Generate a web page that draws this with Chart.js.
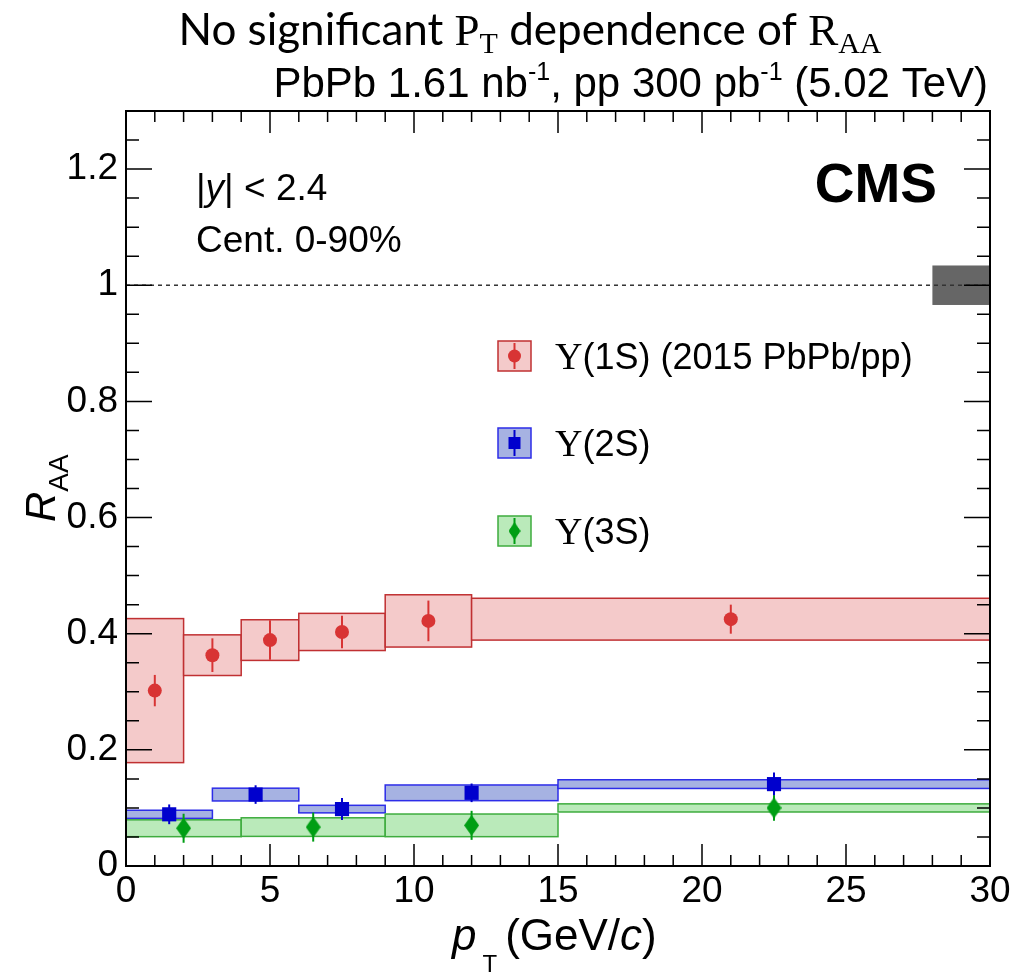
<!DOCTYPE html>
<html>
<head>
<meta charset="utf-8">
<script src="https://cdn.jsdelivr.net/npm/chart.js@4.4.1/dist/chart.umd.min.js"></script>
<style>
  html, body { margin: 0; padding: 0; background: #fff; }
  #wrap { width: 1033px; height: 975px; }
</style>
</head>
<body>
<div id="wrap"><canvas id="raaChart" width="1033" height="975"></canvas></div>
<script>
// ---- Y(1S), 2015 PbPb/pp ----
const pt1S    = [1, 3, 5, 7.5, 10.5, 21];
const binLo1S = [0, 2, 4, 6, 9, 12];
const binHi1S = [2, 4, 6, 9, 12, 30];
const raa1S   = [0.302, 0.363, 0.389, 0.403, 0.422, 0.425];
const stat1S  = [0.027, 0.029, 0.034, 0.028, 0.035, 0.025];
const sys1S   = [0.124, 0.035, 0.035, 0.032, 0.045, 0.036];

// ---- Y(2S) ----
const pt2S    = [1.5, 4.5, 7.5, 12, 22.5];
const binLo2S = [0, 3, 6, 9, 15];
const binHi2S = [3, 6, 9, 15, 30];
const raa2S   = [0.089, 0.123, 0.098, 0.126, 0.141];
const stat2S  = [0.017, 0.016, 0.019, 0.016, 0.020];
const sys2S   = [0.007, 0.011, 0.0065, 0.0135, 0.0075];

// ---- Y(3S) ----
const pt3S    = [2, 6.5, 12, 22.5];
const binLo3S = [0, 4, 9, 15];
const binHi3S = [4, 9, 15, 30];
const raa3S   = [0.065, 0.067, 0.070, 0.100];
const stat3S  = [0.025, 0.025, 0.025, 0.022];
const sys3S   = [0.0145, 0.016, 0.0195, 0.007];

// global uncertainty box around unity
const globalBin = [28, 30];
const globalUnc = 0.034;

const xTickVals = [0, 5, 10, 15, 20, 25, 30];
const yTickVals = [0, 0.2, 0.4, 0.6, 0.8, 1.0, 1.2];
const yTickLabels = ["0", "0.2", "0.4", "0.6", "0.8", "1", "1.2"];

const legendNames = ["(1S) (2015 PbPb/pp)", "(2S)", "(3S)"];

const SANS = '"Liberation Sans", Arial, Helvetica, sans-serif';
const SERIF = '"Liberation Serif", "Times New Roman", serif';
const HEAD = 'Lato, "Open Sans", sans-serif';

const states = [
  { pt: pt1S, lo: binLo1S, hi: binHi1S, raa: raa1S, stat: stat1S, sys: sys1S,
    fill: "rgb(244,202,202)", edge: "rgb(192,48,50)", mark: "rgb(216,52,52)" },
  { pt: pt2S, lo: binLo2S, hi: binHi2S, raa: raa2S, stat: stat2S, sys: sys2S,
    fill: "rgb(166,178,226)", edge: "rgb(45,45,232)", mark: "rgb(0,0,205)" },
  { pt: pt3S, lo: binLo3S, hi: binHi3S, raa: raa3S, stat: stat3S, sys: sys3S,
    fill: "rgb(186,234,186)", edge: "rgb(62,172,62)", mark: "rgb(0,158,20)" }
];

function diamondImage(w, h, color) {
  const c = document.createElement("canvas");
  c.width = w; c.height = h;
  const g = c.getContext("2d");
  g.fillStyle = color;
  g.beginPath();
  g.moveTo(w / 2, 0); g.lineTo(w, h / 2); g.lineTo(w / 2, h); g.lineTo(0, h / 2);
  g.closePath(); g.fill();
  return c;
}
const diamond = diamondImage(15, 21, states[2].mark);

// draw a row of text pieces with their own fonts / offsets
function drawRuns(ctx, runs, x, y, align) {
  let w = 0;
  runs.forEach(r => { ctx.font = r.font; r.w = ctx.measureText(r.text).width + (r.gap || 0); w += r.w; });
  let cx = align === "right" ? x - w : align === "center" ? x - w / 2 : x;
  runs.forEach(r => { ctx.font = r.font; ctx.fillText(r.text, cx + (r.pre || 0), y + (r.dy || 0)); cx += r.w; });
  return w;
}

// systematic boxes, unity line, stat error bars
const boxesPlugin = {
  id: "boxes",
  beforeDatasetsDraw(chart) {
    const { ctx, chartArea, scales: { x, y } } = chart;
    ctx.save();
    ctx.beginPath();
    ctx.rect(chartArea.left, chartArea.top, chartArea.right - chartArea.left, chartArea.bottom - chartArea.top);
    ctx.clip();

    // global box + dashed line at 1
    ctx.fillStyle = "rgb(102,102,102)";
    const gx0 = x.getPixelForValue(globalBin[0]), gx1 = x.getPixelForValue(globalBin[1]);
    const gy0 = y.getPixelForValue(1 + globalUnc), gy1 = y.getPixelForValue(1 - globalUnc);
    ctx.fillRect(gx0, gy0, gx1 - gx0, gy1 - gy0);
    ctx.strokeStyle = "#333";
    ctx.lineWidth = 1.5;
    ctx.setLineDash([4, 4]);
    ctx.beginPath();
    ctx.moveTo(x.getPixelForValue(0), y.getPixelForValue(1));
    ctx.lineTo(x.getPixelForValue(30), y.getPixelForValue(1));
    ctx.stroke();
    ctx.setLineDash([]);

    states.forEach(s => {
      s.raa.forEach((v, i) => {
        const x0 = x.getPixelForValue(s.lo[i]), x1 = x.getPixelForValue(s.hi[i]);
        const y0 = y.getPixelForValue(v + s.sys[i]), y1 = y.getPixelForValue(v - s.sys[i]);
        ctx.fillStyle = s.fill;
        ctx.fillRect(x0, y0, x1 - x0, y1 - y0);
        ctx.strokeStyle = s.edge;
        ctx.lineWidth = 1.5;
        ctx.strokeRect(x0, y0, x1 - x0, y1 - y0);
      });
    });
    states.forEach(s => {
      ctx.strokeStyle = s.mark;
      ctx.lineWidth = 2;
      s.raa.forEach((v, i) => {
        const px = x.getPixelForValue(s.pt[i]);
        ctx.beginPath();
        ctx.moveTo(px, y.getPixelForValue(v + s.stat[i]));
        ctx.lineTo(px, y.getPixelForValue(v - s.stat[i]));
        ctx.stroke();
      });
    });
    ctx.restore();
  }
};

// frame, inward ticks on all sides, labels and legend
const framePlugin = {
  id: "frame",
  afterDraw(chart) {
    const { ctx, chartArea: a, scales: { x, y } } = chart;
    ctx.save();
    ctx.strokeStyle = "#000";
    ctx.lineWidth = 2;
    ctx.strokeRect(a.left, a.top, a.right - a.left, a.bottom - a.top);

    ctx.lineWidth = 1.5;
    ctx.beginPath();
    for (let v = 0; v <= 30; v += 1) {
      const px = x.getPixelForValue(v);
      const len = v % 5 === 0 ? 22 : 11;
      ctx.moveTo(px, a.bottom); ctx.lineTo(px, a.bottom - len);
      ctx.moveTo(px, a.top); ctx.lineTo(px, a.top + len);
    }
    for (let k = 0; k <= 26; k++) {
      const v = k * 0.05;
      const py = y.getPixelForValue(v);
      const len = k % 4 === 0 ? 26 : 13;
      ctx.moveTo(a.left, py); ctx.lineTo(a.left + len, py);
      ctx.moveTo(a.right, py); ctx.lineTo(a.right - len, py);
    }
    ctx.stroke();

    ctx.fillStyle = "#000";
    ctx.textBaseline = "alphabetic";

    // headline
    drawRuns(ctx, [
      { text: "No significant ", font: "44px " + HEAD },
      { text: "P", font: "45px " + SERIF },
      { text: "T", font: "30px " + SERIF, dy: 8 },
      { text: " dependence of ", font: "44px " + HEAD },
      { text: "R", font: "45px " + SERIF },
      { text: "AA", font: "30px " + SERIF, dy: 8 }
    ], 530, 45, "center");

    // luminosity line
    drawRuns(ctx, [
      { text: "PbPb 1.61 nb", font: "42px " + SANS },
      { text: "-1", font: "25px " + SANS, dy: -17 },
      { text: ", pp 300 pb", font: "42px " + SANS },
      { text: "-1", font: "25px " + SANS, dy: -17 },
      { text: " (5.02 TeV)", font: "42px " + SANS }
    ], 988, 97, "right");

    // CMS
    ctx.font = "bold 55px " + SANS;
    ctx.textAlign = "right";
    ctx.fillText("CMS", 937, 202);
    ctx.textAlign = "left";

    // rapidity / centrality
    drawRuns(ctx, [
      { text: "|", font: "37px " + SANS },
      { text: "y", font: "italic 37px " + SANS },
      { text: "| < 2.4", font: "37px " + SANS }
    ], 196, 200, "left");
    ctx.font = "37px " + SANS;
    ctx.fillText("Cent. 0-90%", 196, 252);

    // legend
    const rowY = [356, 443, 531];
    states.forEach((s, i) => {
      const cy = rowY[i];
      ctx.fillStyle = s.fill;
      ctx.fillRect(498, cy - 15, 33, 30);
      ctx.strokeStyle = s.edge;
      ctx.lineWidth = 1.5;
      ctx.strokeRect(498, cy - 15, 33, 30);
      ctx.strokeStyle = s.mark;
      ctx.lineWidth = 2;
      ctx.beginPath(); ctx.moveTo(514.5, cy - 13); ctx.lineTo(514.5, cy + 13); ctx.stroke();
      ctx.fillStyle = s.mark;
      if (i === 0) { ctx.beginPath(); ctx.arc(514.5, cy, 6.5, 0, Math.PI * 2); ctx.fill(); }
      if (i === 1) ctx.fillRect(508.5, cy - 6, 12, 12);
      if (i === 2) ctx.drawImage(diamond, 514.5 - 6, cy - 9, 12, 18);
      ctx.fillStyle = "#000";
      drawRuns(ctx, [
        { text: "\u03A5", font: "38px " + SERIF },
        { text: legendNames[i], font: "36px " + SANS }
      ], 555, cy + 13, "left");
    });

    // x axis title
    drawRuns(ctx, [
      { text: "p", font: "italic 44px " + SANS },
      { text: "T", font: "24px " + SANS, dy: 22, gap: 14, pre: 6 },
      { text: "(GeV/", font: "44px " + SANS },
      { text: "c", font: "italic 44px " + SANS },
      { text: ")", font: "44px " + SANS }
    ], 452, 950, "left");

    // y axis title
    ctx.translate(55, 522);
    ctx.rotate(-Math.PI / 2);
    drawRuns(ctx, [
      { text: "R", font: "italic 42px " + SANS },
      { text: "AA", font: "28px " + SANS, dy: 13 }
    ], 0, 0, "left");
    ctx.restore();
  }
};

function pts(xs, ys) { return xs.map((v, i) => ({ x: v, y: ys[i] })); }

new Chart(document.getElementById("raaChart"), {
  type: "scatter",
  data: {
    datasets: [
      { label: "1S", data: pts(pt1S, raa1S), pointStyle: "circle", pointRadius: 7,
        backgroundColor: states[0].mark, borderWidth: 0 },
      { label: "2S", data: pts(pt2S, raa2S), pointStyle: "rect", pointRadius: 10,
        backgroundColor: states[1].mark, borderWidth: 0 },
      { label: "3S", data: pts(pt3S, raa3S), pointStyle: diamond, pointRadius: 8,
        backgroundColor: states[2].mark, borderWidth: 0 }
    ]
  },
  options: {
    responsive: false,
    animation: false,
    devicePixelRatio: 1,
    layout: { padding: { top: 111, right: 43, left: 0, bottom: 0 } },
    plugins: { legend: { display: false }, tooltip: { enabled: false } },
    scales: {
      x: {
        type: "linear", min: 0, max: 30,
        grid: { display: false, drawTicks: false }, border: { display: false },
        afterBuildTicks: sc => { sc.ticks = xTickVals.map(v => ({ value: v })); },
        afterFit: sc => { sc.height = 109; },
        ticks: { color: "#000", padding: 4, maxRotation: 0, autoSkip: false,
                 font: { family: SANS, size: 37 } }
      },
      y: {
        type: "linear", min: 0, max: 1.3,
        grid: { display: false, drawTicks: false }, border: { display: false },
        afterBuildTicks: sc => { sc.ticks = yTickVals.map(v => ({ value: v })); },
        afterFit: sc => { sc.width = 126; },
        ticks: { color: "#000", padding: 8, autoSkip: false,
                 font: { family: SANS, size: 37 },
                 callback: (v, i) => yTickLabels[i] }
      }
    }
  },
  plugins: [boxesPlugin, framePlugin]
});
</script>
</body>
</html>
